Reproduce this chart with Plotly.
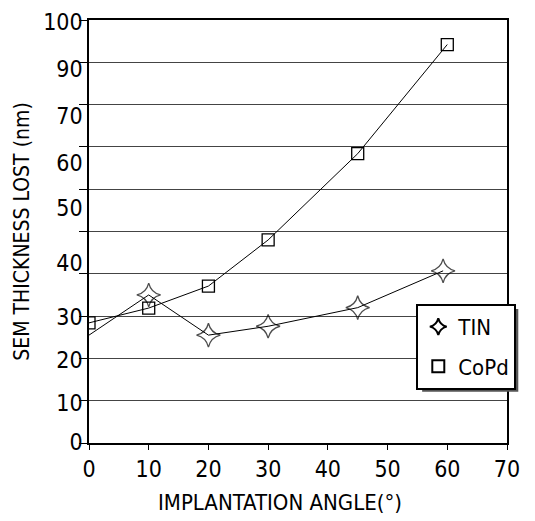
import plotly.graph_objects as go

# ---- data ----
angle_tin = [0, 10, 20, 30, 45, 59.3]
tin = [25.5, 35.0, 25.5, 27.6, 32.0, 40.7]

angle_copd = [0, 10, 20, 30, 45, 60]
copd = [28.4, 31.9, 37.1, 48.0, 68.4, 94.2]

x_ticks = [0, 10, 20, 30, 40, 50, 60, 70]
# the reference's y tick labels (note: no "80", labels drift from gridlines)
y_tick_text = ["0", "10", "20", "30", "40", "50", "60", "70", "90", "100"]
y_tick_at = [0.3, 9.5, 19.7, 29.9, 42.6, 55.6, 66.3, 77.3, 88.4, 99.6]

FONT = "DejaVu Sans Condensed, Liberation Sans Narrow, sans-serif"

fig = go.Figure()
fig.add_trace(go.Scatter(
    x=angle_tin, y=tin, name="TIN", mode="lines+markers", showlegend=False,
    line=dict(color="black", width=1),
    marker=dict(symbol="star-diamond-open", size=[0, 17, 17, 17, 17, 17],
                color="black", line=dict(width=1.3, color="black")),
))
fig.add_trace(go.Scatter(
    x=angle_copd, y=copd, name="CoPd", mode="lines+markers", showlegend=False,
    line=dict(color="black", width=1),
    marker=dict(symbol="square-open", size=12, color="black",
                line=dict(width=1.3, color="black")),
))
# legend entries (markers only, as in the reference legend)
fig.add_trace(go.Scatter(
    x=[None], y=[None], name="TIN", mode="markers", legendgroup="a",
    marker=dict(symbol="star-diamond-open", size=16, color="black",
                line=dict(width=1.3, color="black")),
))
fig.add_trace(go.Scatter(
    x=[None], y=[None], name="CoPd", mode="markers", legendgroup="b",
    marker=dict(symbol="square-open", size=12, color="black",
                line=dict(width=1.3, color="black")),
))

fig.update_layout(
    width=527, height=513,
    margin=dict(l=81, r=28, t=12, b=78, autoexpand=False),
    paper_bgcolor="white", plot_bgcolor="white",
    font=dict(family=FONT, color="black", size=22),
    showlegend=True,
    legend=dict(x=0.783, y=0.329, xanchor="left", yanchor="top",
                bgcolor="white", bordercolor="black", borderwidth=2,
                font=dict(size=22, family=FONT), itemsizing="constant",
                itemwidth=30, tracegroupgap=8),
    shapes=[dict(type="rect", xref="paper", yref="paper",
                 x0=0.797, x1=1.027, y0=0.121, y1=0.317,
                 fillcolor="#555", line=dict(width=0), layer="above")],
    xaxis=dict(range=[0, 70], tickvals=x_ticks, ticks="outside", ticklen=5,
               tickcolor="black", showline=True, linecolor="black", linewidth=1.5,
               mirror=True, showgrid=False, zeroline=False, automargin=False,
               tickfont=dict(size=23)),
    yaxis=dict(range=[0, 100], tickvals=y_tick_at, ticktext=y_tick_text,
               ticks="", showgrid=False, zeroline=False, showline=True,
               linecolor="black", linewidth=1.5, mirror=True, automargin=False,
               tickfont=dict(size=23),
               minor=dict(tick0=0, dtick=10, showgrid=True, gridcolor="#444",
                          gridwidth=1, ticks="outside", ticklen=8, tickcolor="black"),
               title=dict(text="SEM THICKNESS LOST (nm)", font=dict(size=21), standoff=8)),
    annotations=[dict(text="IMPLANTATION ANGLE(°)", xref="paper", yref="paper",
                      x=0.457, y=0, xanchor="center", yanchor="middle", yshift=-59,
                      showarrow=False, font=dict(size=22))],
)

fig.write_html("out.html")
